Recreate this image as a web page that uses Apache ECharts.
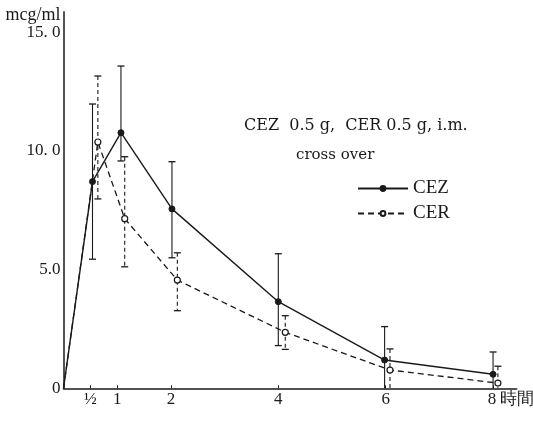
<!DOCTYPE html>
<html><head><meta charset="utf-8">
<script src="https://cdn.jsdelivr.net/npm/echarts@6/dist/echarts.min.js"></script>
<style>html,body{margin:0;padding:0;background:#fff}#c{width:533px;height:421px}</style>
</head><body><div id="c"></div>
<script>
// Time (hours) at which each mean was plotted
const cezTime = [0, 0.54, 1.07, 2.02, 4.0, 5.98, 8.0];
const cezMean = [0, 8.71, 10.77, 7.56, 3.65, 1.19, 0.59];
const cezHigh = [null, 11.98, 13.58, 9.55, 5.67, 2.60, 1.53];
const cezLow  = [null, 5.44, 9.58, 5.50, 1.80, 0, 0];
const cerTime = [0, 0.64, 1.14, 2.12, 4.13, 6.08, 8.09];
const cerMean = [0, 10.38, 7.15, 4.56, 2.36, 0.77, 0.22];
const cerHigh = [null, 13.16, 9.76, 5.71, 3.06, 1.66, 0.93];
const cerLow  = [null, 7.98, 5.12, 3.27, 1.64, 0, 0];
const xTickValues = [0.5, 1, 2, 4, 6, 8];
const xTickLabels = ['½', '1', '2', '4', '6', '8 時間'];
const yTickValues = [0, 5, 10, 15];
const yTickLabels = ['0', '5.0', '10. 0', '15. 0'];
const seriesNames = ['CEZ', 'CER'];
const titleText = 'CEZ  0.5 g,  CER 0.5 g, i.m.';
const subText = 'cross over';

const FONT = '"Liberation Serif", "DejaVu Serif", serif';
const FONT2 = '"DejaVu Serif", "Liberation Serif", serif';
const INK = '#1a1a1a';

function meanData(t, m) {
  return t.map((x, i) => i === 0 ? { value: [x, m[i]], symbol: 'none' } : [x, m[i]]);
}
function errData(t, h, l) {
  const out = [];
  t.forEach((x, i) => { if (h[i] != null) out.push([x, h[i], l[i]]); });
  return out;
}
function errRender(dashed) {
  return function (params, api) {
    const x = api.value(0), hi = api.value(1), lo = api.value(2);
    const pt = api.coord([x, hi]), pb = api.coord([x, lo]);
    const st = { stroke: INK, lineWidth: 1.1, lineDash: dashed ? [4, 3] : null };
    const cw = 3.5;
    const kids = [
      { type: 'line', shape: { x1: pt[0], y1: pt[1], x2: pb[0], y2: pb[1] }, style: st },
      { type: 'line', shape: { x1: pt[0] - cw, y1: pt[1], x2: pt[0] + cw, y2: pt[1] }, style: { stroke: INK, lineWidth: 1.3 } }
    ];
    if (lo > 0) kids.push({ type: 'line', shape: { x1: pb[0] - cw, y1: pb[1], x2: pb[0] + cw, y2: pb[1] }, style: { stroke: INK, lineWidth: 1.3 } });
    return { type: 'group', children: kids };
  };
}

const chart = echarts.init(document.getElementById('c'), null, { renderer: 'canvas' });
chart.setOption({
  backgroundColor: '#fff',
  animation: false,
  title: [
    { text: titleText, left: 239, top: 113, textStyle: { fontFamily: FONT2, fontSize: 16, fontWeight: 'normal', color: INK } },
    { text: subText, left: 291, top: 143, textStyle: { fontFamily: FONT2, fontSize: 15, fontWeight: 'normal', color: INK } }
  ],
  legend: {
    data: seriesNames, orient: 'vertical', left: 352, top: 174,
    itemWidth: 50, itemHeight: 6, itemGap: 6,
    textStyle: { fontFamily: FONT, fontSize: 19, color: INK }
  },
  grid: { left: 63.5, right: 16.3, top: 11.7, bottom: 32.7, containLabel: false, outerBoundsMode: 'none' },
  xAxis: {
    type: 'value', min: 0, max: 8.44,
    axisLine: { show: true, lineStyle: { color: INK, width: 1.5 } },
    axisTick: { show: true, inside: true, length: 3, customValues: xTickValues, lineStyle: { color: INK } },
    axisLabel: {
      customValues: xTickValues, margin: 3,
      fontFamily: FONT, fontSize: 17, color: INK,
      formatter: function (v) {
        const i = xTickValues.indexOf(v);
        const s = i >= 0 ? xTickLabels[i] : '';
        if (s.indexOf(' ') > 0) return '{p|}' + s;
        return s;
      },
      rich: { p: { width: 36 } }
    },
    splitLine: { show: false }
  },
  yAxis: {
    type: 'value', min: 0, max: 15.87,
    name: 'mcg/ml', nameLocation: 'end', nameGap: -14,
    nameTextStyle: { fontFamily: FONT, fontSize: 18, color: INK, align: 'right', verticalAlign: 'bottom', padding: [0, 3, 0, 0] },
    axisLine: { show: true, lineStyle: { color: INK, width: 1.5 } },
    axisTick: { show: false },
    axisLabel: {
      customValues: yTickValues, margin: 3,
      fontFamily: FONT, fontSize: 17, color: INK,
      formatter: function (v) {
        const i = yTickValues.indexOf(v);
        return i >= 0 ? yTickLabels[i] : '';
      }
    },
    splitLine: { show: false }
  },
  series: [
    {
      name: seriesNames[0], type: 'line', data: meanData(cezTime, cezMean),
      symbol: 'circle', symbolSize: 6, showAllSymbol: true,
      itemStyle: { color: INK, borderColor: INK, borderWidth: 1 },
      lineStyle: { color: INK, width: 1.4, type: 'solid' }, z: 3
    },
    {
      name: seriesNames[1], type: 'line', data: meanData(cerTime, cerMean),
      symbol: 'circle', symbolSize: 6, showAllSymbol: true,
      itemStyle: { color: '#fff', borderColor: INK, borderWidth: 1.2 },
      lineStyle: { color: INK, width: 1.3, type: [6, 4] }, z: 3
    },
    { type: 'custom', name: 'cezErr', renderItem: errRender(false), data: errData(cezTime, cezHigh, cezLow), encode: { x: 0, y: [1, 2] }, z: 2, silent: true },
    { type: 'custom', name: 'cerErr', renderItem: errRender(true), data: errData(cerTime, cerHigh, cerLow), encode: { x: 0, y: [1, 2] }, z: 2, silent: true }
  ]
});
</script>
</body></html>
